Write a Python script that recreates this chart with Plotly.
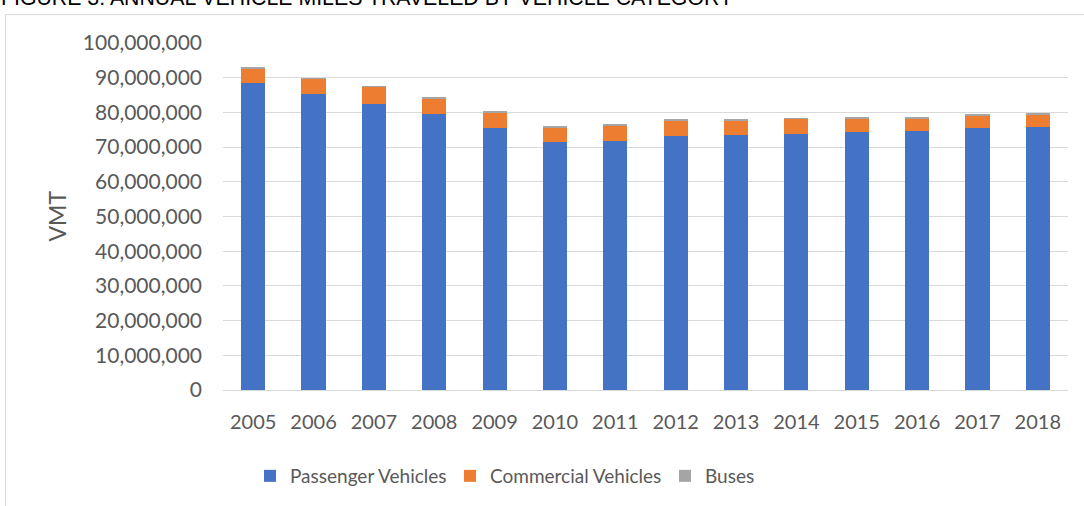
import plotly.graph_objects as go

years = ["2005", "2006", "2007", "2008", "2009", "2010", "2011",
         "2012", "2013", "2014", "2015", "2016", "2017", "2018"]
passenger = [88_500_000, 85_400_000, 82_400_000, 79_400_000, 75_500_000, 71_400_000, 71_900_000,
             73_100_000, 73_400_000, 73_800_000, 74_300_000, 74_600_000, 75_500_000, 75_800_000]
commercial = [4_100_000, 4_300_000, 5_000_000, 4_600_000, 4_500_000, 4_300_000, 4_300_000,
              4_600_000, 4_400_000, 4_300_000, 3_800_000, 3_600_000, 3_600_000, 3_500_000]
buses = [400_000, 200_000, 200_000, 300_000, 200_000, 300_000, 300_000,
         500_000, 300_000, 200_000, 300_000, 300_000, 200_000, 400_000]
y_ticks = list(range(0, 100_000_001, 10_000_000))

TXT = "#595959"
FONT = "Lato"
W, H = 1084, 506
ML, MR, MT, MB = 223, 16, 43, 115
PW = W - ML - MR
PH = H - MT - MB


def px_x(p):
    return (p - ML) / PW


def px_y(p):
    return (H - MB - p) / PH


fig = go.Figure()
fig.add_trace(go.Bar(x=years, y=passenger, name="Passenger Vehicles",
                     marker=dict(color="#4472C4", line=dict(width=0)), legend="legend"))
fig.add_trace(go.Bar(x=years, y=commercial, name="Commercial Vehicles",
                     marker=dict(color="#ED7D31", line=dict(width=0)), legend="legend2"))
fig.add_trace(go.Bar(x=years, y=buses, name="Buses",
                     marker=dict(color="#A5A5A5", line=dict(width=0)), legend="legend3"))

leg_common = dict(orientation="h", yanchor="middle", xanchor="left",
                  font=dict(family=FONT, size=19, color=TXT), bgcolor="rgba(0,0,0,0)")
fig.update_layout(
    width=W, height=H,
    margin=dict(l=ML, r=MR, t=MT, b=MB),
    paper_bgcolor="white", plot_bgcolor="white",
    barmode="stack", bargap=0.6,
    font=dict(family=FONT, color=TXT, size=20),
    showlegend=True,
    legend=dict(x=px_x(250), y=px_y(476), **leg_common),
    legend2=dict(x=px_x(450), y=px_y(476), **leg_common),
    legend3=dict(x=px_x(665), y=px_y(476), **leg_common),
    xaxis=dict(type="category", showgrid=False, showline=True, linecolor="#D9D9D9",
               linewidth=1, ticks="", tickfont=dict(family=FONT, size=20, color=TXT),
               ticklabelstandoff=14),
    yaxis=dict(range=[0, 100_000_000], tickvals=y_ticks, tickformat=",d",
               showgrid=True, gridcolor="#D9D9D9", gridwidth=1, zeroline=False,
               showline=False, ticks="", tickfont=dict(family=FONT, size=21, color=TXT),
               ticklabelstandoff=20),
    shapes=[dict(type="rect", xref="paper", yref="paper",
                 x0=px_x(5.5), x1=px_x(1100), y0=px_y(560), y1=px_y(14.5),
                 line=dict(color="#D9D9D9", width=1), fillcolor="rgba(0,0,0,0)", layer="below")],
    annotations=[
        dict(text="FIGURE 3: ANNUAL VEHICLE MILES TRAVELED BY VEHICLE CATEGORY",
             xref="paper", yref="paper", x=px_x(-1), y=px_y(-2), xanchor="left", yanchor="middle",
             showarrow=False, font=dict(family="Liberation Sans", size=21.3, color="#000000")),
        dict(text="VMT", xref="paper", yref="paper", x=px_x(56), y=px_y(217),
             xanchor="center", yanchor="middle", textangle=-90, showarrow=False,
             font=dict(family=FONT, size=23, color=TXT)),
    ],
)

fig.write_html("out.html", config={"displayModeBar": False},
               post_script="document.body.style.margin='0';document.body.style.padding='0';")
